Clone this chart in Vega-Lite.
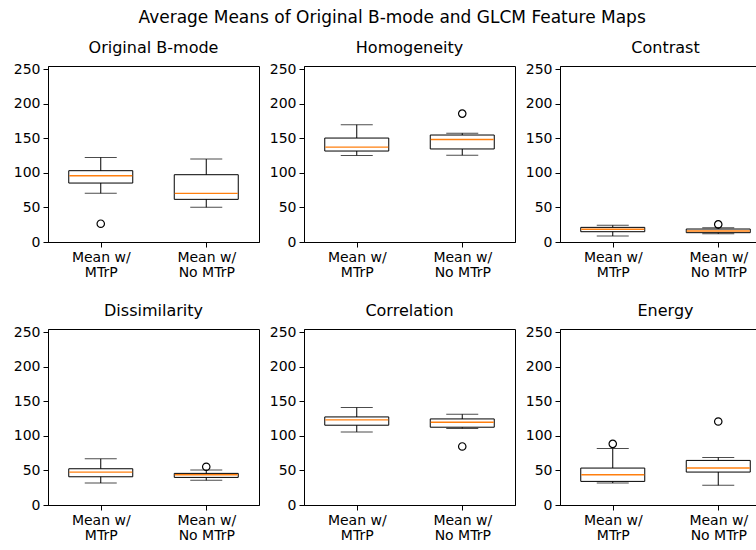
{
  "$schema": "https://vega.github.io/schema/vega-lite/v6.json",
  "padding": {"left": 12, "top": 8, "right": 0, "bottom": 0},
  "title": {"text": "Average Means of Original B-mode and GLCM Feature Maps", "fontSize": 17, "font": "DejaVu Sans", "fontWeight": "normal", "color": "black", "anchor": "middle", "offset": 13},
  "data": {"values": [
    {"panel": "Original B-mode", "group": "Mean w/ MTrP", "lower": 70.5, "q1": 85.4, "median": 96, "q3": 103.3, "upper": 122.6, "outlier": 26.5},
    {"panel": "Original B-mode", "group": "Mean w/ No MTrP", "lower": 50.2, "q1": 61.8, "median": 70.5, "q3": 97.5, "upper": 120.2, "outlier": null},
    {"panel": "Homogeneity", "group": "Mean w/ MTrP", "lower": 125.5, "q1": 131.8, "median": 137.5, "q3": 150.6, "upper": 169.9, "outlier": null},
    {"panel": "Homogeneity", "group": "Mean w/ No MTrP", "lower": 125.7, "q1": 134.8, "median": 148.4, "q3": 155, "upper": 157.5, "outlier": 186},
    {"panel": "Contrast", "group": "Mean w/ MTrP", "lower": 8.7, "q1": 14.9, "median": 18.4, "q3": 21.2, "upper": 24.1, "outlier": null},
    {"panel": "Contrast", "group": "Mean w/ No MTrP", "lower": 12, "q1": 13.5, "median": 15.9, "q3": 18.8, "upper": 20.7, "outlier": 25.6},
    {"panel": "Dissimilarity", "group": "Mean w/ MTrP", "lower": 31.8, "q1": 40.9, "median": 47.7, "q3": 52.5, "upper": 66.9, "outlier": null},
    {"panel": "Dissimilarity", "group": "Mean w/ No MTrP", "lower": 35.7, "q1": 40, "median": 43.8, "q3": 45.8, "upper": 50.6, "outlier": 55.4},
    {"panel": "Correlation", "group": "Mean w/ MTrP", "lower": 105.9, "q1": 115.6, "median": 123.3, "q3": 127.6, "upper": 141.2, "outlier": null},
    {"panel": "Correlation", "group": "Mean w/ No MTrP", "lower": 111, "q1": 112.7, "median": 119.9, "q3": 124.7, "upper": 131.5, "outlier": 84.8},
    {"panel": "Energy", "group": "Mean w/ MTrP", "lower": 31.8, "q1": 34.2, "median": 43.8, "q3": 53.5, "upper": 81.9, "outlier": 88.6},
    {"panel": "Energy", "group": "Mean w/ No MTrP", "lower": 28.5, "q1": 47.7, "median": 53.5, "q3": 64.6, "upper": 68.9, "outlier": 121}
  ]},
  "facet": {"field": "panel", "type": "nominal", "sort": ["Original B-mode", "Homogeneity", "Contrast", "Dissimilarity", "Correlation", "Energy"],
    "header": {"title": null, "labelFontSize": 16, "labelFont": "DejaVu Sans", "labelColor": "black", "labelPadding": 6}},
  "columns": 3,
  "spacing": {"column": 8, "row": 22},
  "resolve": {"axis": {"x": "independent", "y": "independent"}},
  "spec": {
    "width": 211,
    "height": 176,
    "encoding": {
      "x": {"field": "group", "type": "ordinal", "scale": {"type": "point", "padding": 0.5},
        "axis": {"title": null, "labelAngle": 0, "labelExpr": "datum.value == 'Mean w/ MTrP' ? ['Mean w/', 'MTrP'] : ['Mean w/', 'No MTrP']", "labelLineHeight": 15}}
    },
    "layer": [
      {"mark": {"type": "rule", "color": "black", "strokeWidth": 1},
       "encoding": {"y": {"field": "lower", "type": "quantitative", "scale": {"domain": [0, 255], "nice": false}, "axis": {"title": null, "values": [0, 50, 100, 150, 200, 250], "labelOverlap": false}}, "y2": {"field": "upper"}}},
      {"mark": {"type": "bar", "fill": "white", "stroke": "black", "strokeWidth": 1, "width": 64},
       "encoding": {"y": {"field": "q1", "type": "quantitative", "axis": {"title": null, "values": [0, 50, 100, 150, 200, 250], "labelOverlap": false}}, "y2": {"field": "q3"}}},
      {"mark": {"type": "tick", "color": "black", "size": 32, "thickness": 1},
       "encoding": {"y": {"field": "lower", "type": "quantitative", "axis": {"title": null, "values": [0, 50, 100, 150, 200, 250], "labelOverlap": false}}}},
      {"mark": {"type": "tick", "color": "black", "size": 32, "thickness": 1},
       "encoding": {"y": {"field": "upper", "type": "quantitative", "axis": {"title": null, "values": [0, 50, 100, 150, 200, 250], "labelOverlap": false}}}},
      {"mark": {"type": "tick", "color": "#ff7f0e", "size": 63, "thickness": 1.4, "opacity": 1},
       "encoding": {"y": {"field": "median", "type": "quantitative", "axis": {"title": null, "values": [0, 50, 100, 150, 200, 250], "labelOverlap": false}}}},
      {"mark": {"type": "point", "shape": "circle", "filled": false, "color": "black", "size": 55, "strokeWidth": 1.2, "opacity": 1},
       "encoding": {"y": {"field": "outlier", "type": "quantitative", "axis": {"title": null, "values": [0, 50, 100, 150, 200, 250], "labelOverlap": false}}}}
    ]
  },
  "config": {
    "font": "DejaVu Sans",
    "view": {"stroke": "black", "strokeWidth": 1},
    "axis": {"grid": false, "domainColor": "black", "tickColor": "black", "labelColor": "black", "labelFont": "DejaVu Sans", "labelFontSize": 14, "tickSize": 5, "labelPadding": 3, "domainWidth": 1, "tickWidth": 1, "labelOverlap": false},
    "axisY": {"labelPadding": 3}
  }
}
